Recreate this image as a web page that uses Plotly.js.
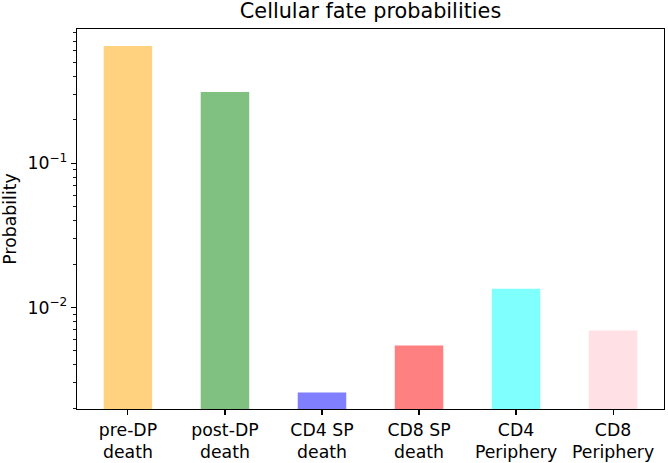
<!DOCTYPE html>
<html>
<head>
<meta charset="utf-8">
<script src="https://cdn.plot.ly/plotly-3.0.1.min.js"></script>
<style>html,body{margin:0;padding:0;background:#fff;}#chart{width:668px;height:463px;}</style>
</head>
<body>
<div id="chart"></div>
<script>
const categories = ["pre-DP<br>death", "post-DP<br>death", "CD4 SP<br>death", "CD8 SP<br>death", "CD4<br>Periphery", "CD8<br>Periphery"];
const probabilities = [0.649, 0.312, 0.00257, 0.00546, 0.0135, 0.00693];
const barColors = ["#FFD280", "#80C080", "#8080FF", "#FF8080", "#80FFFF", "#FFE0E5"];
const majorTickVals = [0.01, 0.1];
const majorTickText = ["10<sup>−2</sup>", "10<sup>−1</sup>"];
const minorTickVals = [0.002,0.003,0.004,0.005,0.006,0.007,0.008,0.009,0.02,0.03,0.04,0.05,0.06,0.07,0.08,0.09,0.2,0.3,0.4,0.5,0.6,0.7,0.8,0.9];

const xIdx = categories.map((_, i) => i);
const yRange = [Math.log10(0.001979), Math.log10(0.851)];
const font = {family: "DejaVu Sans", size: 17.3, color: "#000"};

const data = [
  {type: "bar", x: xIdx, y: probabilities, width: 0.5,
   marker: {color: barColors, line: {width: 0}}, hoverinfo: "skip"},
  {type: "scatter", x: [0], y: [0.1], yaxis: "y2", mode: "markers",
   marker: {opacity: 0}, hoverinfo: "skip", showlegend: false}
];

const layout = {
  width: 668, height: 463,
  margin: {l: 77, r: 4, t: 29, b: 54, pad: 0},
  paper_bgcolor: "#fff", plot_bgcolor: "#fff",
  showlegend: false,
  font: font,
  title: {text: "Cellular fate probabilities", font: {family: "DejaVu Sans", size: 20.8, color: "#000"},
          x: 0.5547, xanchor: "center", y: 1 - 11/463, yanchor: "middle", yref: "container"},
  xaxis: {range: [-0.525, 5.525], tickvals: xIdx, ticktext: categories,
          ticks: "outside", ticklen: 5, tickwidth: 1.1, tickcolor: "#000",
          showline: true, linecolor: "#000", linewidth: 1.2, mirror: true,
          showgrid: false, zeroline: false, tickfont: font, fixedrange: true},
  yaxis: {type: "log", range: yRange, tickvals: majorTickVals, ticktext: majorTickText,
          ticks: "outside", ticklen: 5, tickwidth: 1.1, tickcolor: "#000",
          showline: true, linecolor: "#000", linewidth: 1.2, mirror: true,
          showgrid: false, zeroline: false, tickfont: font,
          title: {text: "Probability", font: font, standoff: 10}},
  yaxis2: {type: "log", range: yRange, overlaying: "y", side: "left",
           tickvals: minorTickVals, showticklabels: false,
           ticks: "outside", ticklen: 3, tickwidth: 0.9, tickcolor: "#000",
           showline: false, showgrid: false, zeroline: false}
};

Plotly.newPlot("chart", data, layout, {displayModeBar: false, staticPlot: true});
</script>
</body>
</html>
